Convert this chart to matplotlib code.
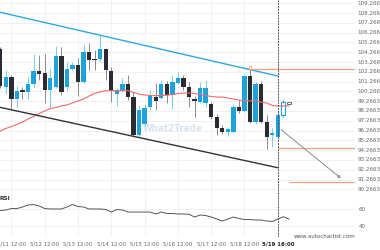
import matplotlib
matplotlib.use("Agg")
import matplotlib.pyplot as plt
import matplotlib.transforms as mtransforms

# velas de 4 horas (indice, apertura, maximo, minimo, cierre)
opens = [104.60, 100.75, 101.74, 99.49, 100.38, 100.24, 101.02, 102.35, 102.15, 100.44,
         100.72, 103.88, 100.72, 102.55, 102.96, 101.26, 104.29, 103.61, 103.55, 104.57,
         102.40, 100.05, 100.31, 100.99, 99.69, 95.81, 96.94, 98.67, 99.73, 99.56,
         100.99, 99.90, 101.09, 101.60, 100.72, 99.49, 99.21, 99.05, 98.98, 97.68,
         96.50, 96.15, 96.15, 98.64, 98.26, 101.84, 97.17, 100.99, 97.11, 95.81,
         95.64, 97.86]
highs = [104.80, 102.45, 101.94, 100.82, 100.75, 101.74, 104.09, 103.98, 104.09, 102.55,
         104.90, 104.83, 103.27, 103.27, 103.68, 105.01, 105.21, 104.50, 106.03, 104.70,
         102.76, 100.61, 101.64, 101.94, 100.21, 98.88, 98.98, 100.41, 101.09, 101.43,
         101.33, 101.94, 102.28, 101.94, 101.23, 99.80, 101.23, 101.43, 99.18, 97.96,
         96.83, 96.63, 98.98, 99.39, 102.04, 102.52, 101.23, 101.33, 97.86, 96.53,
         98.06, 99.39]
lows = [100.61, 100.00, 98.37, 98.67, 99.49, 99.49, 100.61, 101.43, 99.08, 98.47,
        100.61, 99.90, 100.41, 102.45, 99.80, 101.13, 102.45, 102.45, 103.27, 101.43,
        99.18, 98.78, 100.21, 99.39, 95.61, 95.61, 96.73, 98.37, 98.37, 99.49,
        99.08, 98.47, 101.02, 100.41, 98.67, 97.68, 99.08, 98.70, 97.45, 95.81,
        95.92, 95.71, 95.97, 98.06, 98.16, 97.04, 96.94, 97.04, 94.38, 94.59,
        95.51, 97.65]
closes = [100.82, 101.77, 99.49, 100.34, 100.17, 100.99, 102.35, 102.01, 100.38, 101.67,
          103.88, 100.21, 102.52, 102.96, 101.26, 104.32, 103.47, 103.51, 104.57, 102.45,
          100.31, 100.36, 100.99, 99.73, 95.81, 98.37, 98.54, 99.80, 99.32, 100.99,
          99.90, 101.26, 101.60, 100.75, 99.73, 99.32, 100.58, 100.58, 97.68, 96.50,
          96.15, 96.39, 98.70, 98.26, 101.84, 97.17, 100.99, 97.17, 95.64, 95.97,
          97.86, 99.21]

# media movil (rojo)
ma = [96.22, 96.48, 96.68, 96.89, 97.14, 97.45, 97.70, 98.01, 98.26, 98.52,
      98.62, 98.78, 98.88, 99.08, 99.29, 99.49, 99.80, 100.05, 100.24, 100.34,
      100.34, 100.34, 100.34, 100.34, 100.15, 100.00, 99.90, 99.85, 99.83, 99.85,
      99.88, 99.95, 100.05, 100.10, 100.10, 100.05, 99.95, 99.85, 99.75, 99.69,
      99.69, 99.59, 99.49, 99.39, 99.34, 99.29, 99.29, 99.18, 99.08, 98.83,
      98.78, 98.78, 98.78]

rsi = [58.6, 59.2, 60.9, 60.9, 62.7, 65.1, 65.6, 63.9, 60.9, 60.4,
       60.4, 60.4, 62.7, 65.6, 63.3, 62.7, 60.4, 60.4, 60.4, 59.8,
       56.8, 59.8, 59.2, 56.8, 56.8, 56.8, 56.8, 56.8, 54.5, 56.8,
       55.1, 55.1, 54.5, 54.5, 54.1, 50.9, 53.3, 52.7, 50.9, 48.6,
       46.2, 48.6, 50.9, 49.2, 48.0, 48.0, 47.4, 47.4, 46.2, 45.6,
       48.6, 51.3, 48.6]

# canal y objetivos
canal_sup = ([-0.05, 50], [108.35, 101.84])
canal_inf = ([-0.05, 50], [98.64, 92.47])
niveles = [(45, 102.52), (50, 94.45), (52, 90.98)]
flecha_ini = (50.2, 96.53)
flecha_fin = (61.75, 91.22)
precio_actual = (52, 98.98, 99.15)

precios = [109.2663, 108.2663, 107.2663, 106.2663, 105.2663, 104.2663, 103.2663,
           102.2663, 101.2663, 100.2663, 99.2663, 98.2663, 97.2663, 96.2663,
           95.2663, 94.2663, 93.2663, 92.2663, 91.2663, 90.2663]
fechas_pos = [2, 8, 14, 20, 26, 32, 38, 44, 50]
fechas = ['5/11 12:00', '5/12 12:00', '5/13 12:00', '5/14 12:00', '5/15 12:00',
          '5/16 12:00', '5/17 12:00', '5/18 12:00', '5/19 16:00']

azul = '#1ca3de'
oscuro = '#2b2b33'
naranja = '#f7a27e'
xlim = (-0.054, 63.91)

fig = plt.figure(figsize=(3.8, 2.5), dpi=100)
ax = fig.add_axes([0, 53 / 250, 355 / 380, 197 / 250])
ax_rsi = fig.add_axes([0, 13 / 250, 355 / 380, 40 / 250])

for a in (ax, ax_rsi):
    a.set_xlim(*xlim)
    for s in a.spines.values():
        s.set_visible(False)
    a.set_xticks([])
    a.set_yticks([])
    for p in fechas_pos:
        a.axvline(p, color='#f0f0f0', lw=0.6, zorder=0)

ax.set_ylim(89.48, 109.603)
for p in precios:
    ax.axhline(p, color='#eeeeee', lw=0.6, zorder=0)
    # en la referencia solo se ven 7 caracteres
    etiqueta = f'{p:.3f}' if p >= 100 else f'{p:.4f}'
    ax.text(1.008, p, etiqueta, transform=mtransforms.blended_transform_factory(ax.transAxes, ax.transData),
            fontsize=4.1, color='#666666', va='center', ha='left', clip_on=False)

# marca de agua
ax.text(31.1, 96.5, 'What2Trade', fontsize=6.3, fontweight='bold', color='#d8e3ee',
        ha='center', va='center', zorder=1)

# velas
for i in range(len(opens)):
    o, h, l, c = opens[i], highs[i], lows[i], closes[i]
    if i == len(opens) - 1:
        ax.vlines(i, l, h, color=azul, lw=0.7, zorder=3)
        ax.bar(i, c - o, bottom=o, width=0.75, facecolor='white', edgecolor=azul, lw=0.8, zorder=4)
        continue
    if c >= o:
        col, wcol = azul, '#7fcbeb'
    else:
        col, wcol = oscuro, '#8a8a8a'
    ax.vlines(i, l, h, color=wcol, lw=0.7, zorder=3)
    ax.bar(i, max(abs(c - o), 0.04), bottom=min(o, c), width=0.78, color=col, zorder=4)

ax.bar(precio_actual[0], precio_actual[2] - precio_actual[1], bottom=precio_actual[1], width=0.6,
       facecolor='white', edgecolor='#555555', lw=0.6, zorder=5)

ax.plot(range(len(ma)), ma, color='#f26b6b', lw=0.8, zorder=5)
ax.plot(*canal_sup, color='#2ea8e0', lw=1.0, zorder=6)
ax.plot(*canal_inf, color='#333333', lw=1.0, zorder=6)

for x0, y0 in niveles:
    ax.hlines(y0, x0, xlim[1], color=naranja, lw=0.9, zorder=6)
ax.plot(niveles[0][0], niveles[0][1] + 0.27, marker='^', ms=2.5, mfc='white', mec=naranja, mew=0.6, zorder=7)

ax.annotate('', xy=flecha_fin, xytext=flecha_ini,
            arrowprops=dict(arrowstyle='-|>', color='#8c8c8c', lw=0.7, mutation_scale=4), zorder=7)

ax.axvline(50, color='#555555', lw=0.7, ls=(0, (2, 1)), zorder=8)

# panel RSI
ax_rsi.set_ylim(27.4, 74.5)
for v in (40, 60):
    ax_rsi.axhline(v, color='#eeeeee', lw=0.6, zorder=0)
    ax_rsi.text(1.01, v, str(v), transform=mtransforms.blended_transform_factory(ax_rsi.transAxes, ax_rsi.transData),
                fontsize=4.1, color='#666666', va='center', ha='left', clip_on=False)
ax_rsi.plot(range(len(rsi)), rsi, color='#555555', lw=0.7)
ax_rsi.axvline(50, color='#555555', lw=0.7, ls=(0, (2, 1)))
ax_rsi.text(0.0, 0.975, 'RSI', transform=ax_rsi.transAxes, fontsize=4.2, fontweight='bold',
            color='#333333', va='center', ha='left')

tr = mtransforms.blended_transform_factory(ax_rsi.transData, fig.transFigure)
for p, f in zip(fechas_pos, fechas):
    ultimo = f == fechas[-1]
    ax_rsi.text(p, 6 / 250, f, transform=tr, fontsize=3.9, ha='center', va='center',
                color='#222222' if ultimo else '#666666', fontweight='bold' if ultimo else 'normal',
                clip_on=False)

fig.text(325 / 380, 14 / 250, 'www.autochartist.com', fontsize=4.0, color='#555555', ha='center', va='center')

fig.savefig('out.png', dpi=100)
